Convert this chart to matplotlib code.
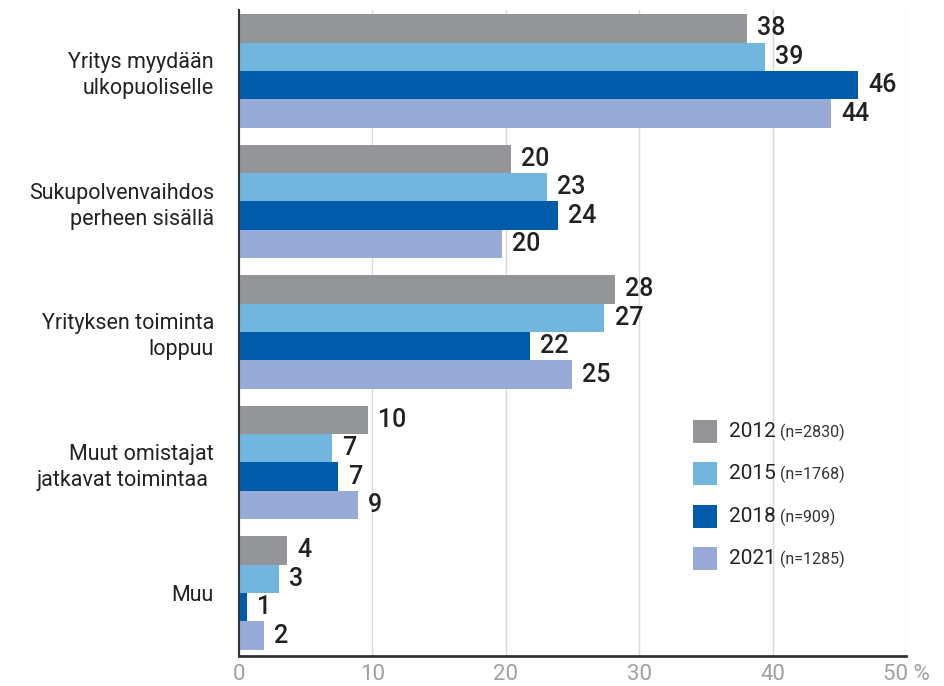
import matplotlib
matplotlib.use("Agg")
from matplotlib import pyplot as plt
from matplotlib.patches import Rectangle
import numpy as np

categories = ["Yritys myydään\nulkopuoliselle",
              "Sukupolvenvaihdos\nperheen sisällä",
              "Yrityksen toiminta\nloppuu",
              "Muut omistajat\njatkavat toimintaa ",
              "Muu"]
years = ["2012", "2015", "2018", "2021"]
sample_sizes = ["(n=2830)", "(n=1768)", "(n=909)", "(n=1285)"]
colors = ["#939598", "#70B6DF", "#005CAB", "#98AAD7"]

# bar lengths (%), one list per survey year
v2012 = [38.1, 20.4, 28.2, 9.7, 3.6]
v2015 = [39.4, 23.1, 27.4, 7.0, 3.0]
v2018 = [46.4, 23.9, 21.8, 7.4, 0.6]
v2021 = [44.4, 19.7, 25.0, 8.9, 1.9]
series = [v2012, v2015, v2018, v2021]

plt.rcParams['font.family'] = ['Roboto', 'DejaVu Sans']

fig = plt.figure(figsize=(9.45, 6.86), dpi=100)
ax = fig.add_axes([0.2529, 0.0437, 0.7058, 0.9417])

h = 0.218
y = np.arange(len(categories))
for i, vals in enumerate(series):
    ypos = y - 1.5 * h + i * h
    ax.barh(ypos, vals, height=h, color=colors[i], zorder=2)
    for yy, v in zip(ypos, vals):
        ax.text(v + 0.75, yy, "%d" % round(v), va='center', ha='left',
                fontsize=18, fontweight='medium', color='#222222', zorder=3)

ax.set_xlim(0, 50)
ax.set_ylim(4.483, -0.467)
ax.set_yticks(y)
ax.set_yticklabels(categories, fontsize=15.5, color='#222222', linespacing=1.3)
ax.set_xticks([0, 10, 20, 30, 40, 50])
ax.set_xticklabels(["0", "10", "20", "30", "40", "50 %"], fontsize=16,
                   color='#a0a0a0')
ax.tick_params(axis='both', length=0)
ax.tick_params(axis='y', pad=18)
ax.tick_params(axis='x', pad=6)
ax.grid(axis='x', color='#d9d9d9', linewidth=1, zorder=0)
for s in ['top', 'right']:
    ax.spines[s].set_visible(False)
ax.spines['left'].set_color('#333333')
ax.spines['bottom'].set_color('#333333')
ax.spines['left'].set_linewidth(1.5)
ax.spines['bottom'].set_linewidth(2)
ax.spines['left'].set_zorder(4)

# legend drawn by hand (year in larger type, sample size smaller)
ax.add_patch(Rectangle((0.665, 0.08), 0.32, 0.3, transform=ax.transAxes,
                       facecolor='white', edgecolor='none', zorder=1))
leg_y = [0.348, 0.283, 0.216, 0.151]
for i in range(4):
    ax.add_patch(Rectangle((0.681, leg_y[i] - 0.018), 0.035, 0.036,
                           transform=ax.transAxes, facecolor=colors[i],
                           edgecolor='none', zorder=3))
    t = ax.text(0.735, leg_y[i], years[i], transform=ax.transAxes,
                fontsize=15, color='#222222', va='center', ha='left', zorder=3)
    ax.annotate(" " + sample_sizes[i], xycoords=t, xy=(1, 0.45),
                va='center', ha='left', fontsize=11.5, color='#333333', zorder=3)

fig.savefig("out.png", dpi=100)
